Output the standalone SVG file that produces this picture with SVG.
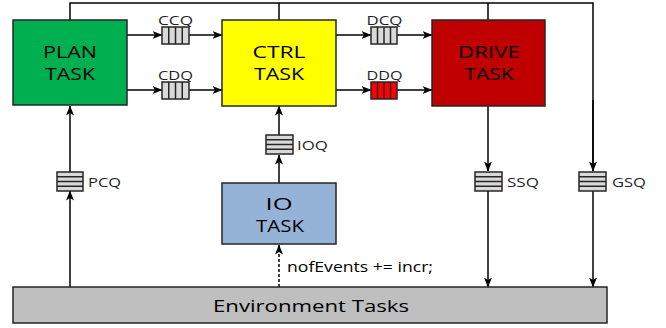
<svg xmlns="http://www.w3.org/2000/svg" width="666" height="328" viewBox="0 0 666 328">
<style>
.box{stroke:#262626;stroke-width:1.5}
.t{font-family:"Open Sans","DejaVu Sans",sans-serif;font-size:17px;fill:#000;text-anchor:middle}
.q{fill:#D9D9D9;stroke:#262626;stroke-width:1.5}
.qd{stroke:#262626;stroke-width:1.5}
.ql{font-family:"Open Sans","DejaVu Sans",sans-serif;font-size:13px;fill:#1e1e2a}
.ln{fill:none;stroke:#000;stroke-width:1.5}
.ar{marker-end:url(#ah)}
</style>
<defs>
<marker id="ah" viewBox="0 0 10 8" refX="9.5" refY="4" markerWidth="10" markerHeight="8" markerUnits="userSpaceOnUse" orient="auto">
<path d="M0,0 L10,4 L0,8 L2.5,4 z" fill="#000"/>
</marker>
</defs>
<rect width="666" height="328" fill="#fff"/>

<g id="connectors">
<path class="ln" d="M70,20 V3 H593 V171"/>
<path class="ln" d="M279,3 V20 M488,3 V20"/>
<path class="ln ar" d="M593,191 V287"/>
<path class="ln ar" d="M593,100 V171"/>
<path class="ln ar" d="M488,106 V171"/>
<path class="ln ar" d="M488,191 V287"/>
<path class="ln ar" d="M70,287 V191"/>
<path class="ln ar" d="M70,172 V106"/>
<path class="ln ar" d="M279,183 V155"/>
<path class="ln ar" d="M279,135 V106"/>
<path class="ln ar" d="M279,287 V245" stroke-dasharray="3,2"/>
<path class="ln ar" d="M127,35 H162"/>
<path class="ln ar" d="M189,35 H222"/>
<path class="ln ar" d="M127,90 H162"/>
<path class="ln ar" d="M189,90 H222"/>
<path class="ln ar" d="M336,35 H371"/>
<path class="ln ar" d="M397,35 H432"/>
<path class="ln ar" d="M336,90 H371"/>
<path class="ln ar" d="M397,90 H432"/>
</g>

<g id="plan">
<rect class="box" x="13" y="20" width="114" height="85" fill="#00B050"/>
<text class="t" x="70" y="58" textLength="54" lengthAdjust="spacingAndGlyphs">PLAN</text>
<text class="t" x="70" y="80" textLength="50" lengthAdjust="spacingAndGlyphs">TASK</text>
</g>
<g id="ctrl">
<rect class="box" x="222" y="20" width="114" height="86" fill="#FFFF00"/>
<text class="t" x="279" y="58" textLength="53" lengthAdjust="spacingAndGlyphs">CTRL</text>
<text class="t" x="279" y="80" textLength="50" lengthAdjust="spacingAndGlyphs">TASK</text>
</g>
<g id="drive">
<rect class="box" x="432" y="20" width="113" height="86" fill="#C00000"/>
<text class="t" x="489" y="58" textLength="62" lengthAdjust="spacingAndGlyphs">DRIVE</text>
<text class="t" x="489" y="80" textLength="49" lengthAdjust="spacingAndGlyphs">TASK</text>
</g>
<g id="io">
<rect class="box" x="222" y="183" width="114" height="61" fill="#95B3D7"/>
<text class="t" x="279" y="210" textLength="27" lengthAdjust="spacingAndGlyphs">IO</text>
<text class="t" x="280" y="232" textLength="48" lengthAdjust="spacingAndGlyphs">TASK</text>
</g>
<g id="env">
<rect class="box" x="13" y="287" width="594" height="36" fill="#BFBFBF"/>
<text x="311" y="312" font-family="'Open Sans','DejaVu Sans',sans-serif" font-size="16" text-anchor="middle" textLength="196" lengthAdjust="spacingAndGlyphs" fill="#000">Environment Tasks</text>
</g>

<g id="ccq">
<rect class="q" x="162" y="27" width="27" height="17"/>
<path class="qd" d="M168.75,27 V44 M175.5,27 V44 M182.25,27 V44"/>
<text class="ql" x="175.5" y="25" text-anchor="middle" textLength="35" lengthAdjust="spacingAndGlyphs">CCQ</text>
</g>
<g id="cdq">
<rect class="q" x="162" y="82" width="27" height="17"/>
<path class="qd" d="M168.75,82 V99 M175.5,82 V99 M182.25,82 V99"/>
<text class="ql" x="175.5" y="80" text-anchor="middle" textLength="35" lengthAdjust="spacingAndGlyphs">CDQ</text>
</g>
<g id="dcq">
<rect class="q" x="371" y="27" width="26" height="17"/>
<path class="qd" d="M377.5,27 V44 M384,27 V44 M390.5,27 V44"/>
<text class="ql" x="384.5" y="25" text-anchor="middle" textLength="36" lengthAdjust="spacingAndGlyphs">DCQ</text>
</g>
<g id="ddq">
<rect class="q" x="371" y="82" width="26" height="17" fill="#FF0000" style="fill:#FF0000"/>
<path class="qd" d="M377.5,82 V99 M384,82 V99 M390.5,82 V99"/>
<text class="ql" x="384.5" y="80" text-anchor="middle" textLength="36" lengthAdjust="spacingAndGlyphs">DDQ</text>
</g>
<g id="pcq">
<rect class="q" x="57" y="172" width="26" height="19"/>
<path class="qd" d="M57,176.75 H83 M57,181.5 H83 M57,186.25 H83"/>
<text class="ql" x="88" y="187" textLength="33" lengthAdjust="spacingAndGlyphs">PCQ</text>
</g>
<g id="ioq">
<rect class="q" x="266" y="135" width="27" height="19"/>
<path class="qd" d="M266,139.75 H293 M266,144.5 H293 M266,149.25 H293"/>
<text class="ql" x="297" y="150" textLength="31" lengthAdjust="spacingAndGlyphs">IOQ</text>
</g>
<g id="ssq">
<rect class="q" x="475" y="172" width="27" height="19"/>
<path class="qd" d="M475,176.75 H502 M475,181.5 H502 M475,186.25 H502"/>
<text class="ql" x="507" y="187" textLength="32" lengthAdjust="spacingAndGlyphs">SSQ</text>
</g>
<g id="gsq">
<rect class="q" x="579" y="172" width="27" height="19"/>
<path class="qd" d="M579,176.75 H606 M579,181.5 H606 M579,186.25 H606"/>
<text class="ql" x="612" y="187" textLength="34" lengthAdjust="spacingAndGlyphs">GSQ</text>
</g>
<text x="287" y="272" font-family="'Open Sans','DejaVu Sans',sans-serif" font-size="14" fill="#000" textLength="146" lengthAdjust="spacingAndGlyphs">nofEvents += incr;</text>
</svg>
